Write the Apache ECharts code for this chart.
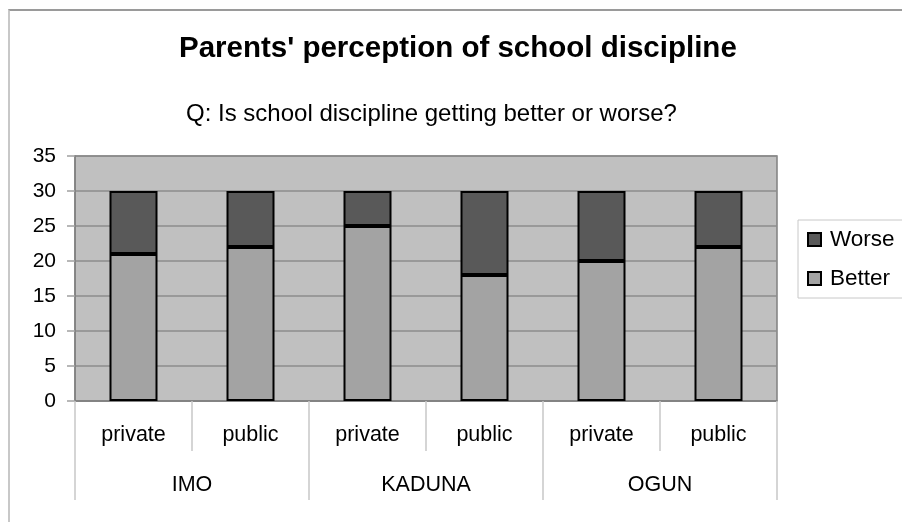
<!DOCTYPE html>
<html>
<head>
<meta charset="utf-8">
<script src="https://cdn.jsdelivr.net/npm/echarts@6/dist/echarts.min.js"></script>
<style>
  html, body { margin: 0; padding: 0; background: #ffffff; }
  #frame {
    position: absolute; left: 8px; top: 9px; width: 894px; height: 513px;
    border-top: 2px solid #9a9a9a; border-left: 2px solid #c8c8c8;
    box-sizing: border-box;
  }
  #chart { position: absolute; left: 0; top: 0; width: 902px; height: 522px; }
</style>
</head>
<body>
<div id="frame"></div>
<div id="chart"></div>
<script>
// School type within each state, and the states they belong to
const schoolTypes = ['private', 'public', 'private', 'public', 'private', 'public'];
const states = ['IMO', 'KADUNA', 'OGUN'];

// Number of parents answering each way
const betterCounts = [21, 22, 25, 18, 20, 22];
const worseCounts = [9, 8, 5, 12, 10, 8];

// Value axis
const yMin = 0;
const yMax = 35;
const yStep = 5;

const font = '"Liberation Sans", Arial, sans-serif';

const chart = echarts.init(document.getElementById('chart'), null, { renderer: 'canvas' });

chart.setOption({
  animation: false,
  textStyle: { fontFamily: font, color: '#000' },
  title: [
    {
      text: "Parents' perception of school discipline",
      left: 174,
      top: 29,
      textStyle: { fontFamily: font, fontSize: 29.5, fontWeight: 'bold', color: '#000' }
    },
    {
      text: 'Q: Is school discipline getting better or worse?',
      left: 181,
      top: 97,
      textStyle: { fontFamily: font, fontSize: 24, fontWeight: 'normal', color: '#000' }
    }
  ],
  legend: {
    orient: 'vertical',
    left: 798,
    top: 220,
    data: ['Worse', 'Better'],
    icon: 'rect',
    itemWidth: 13,
    itemHeight: 13,
    itemGap: 16,
    padding: [8, 40, 8, 9],
    borderColor: '#c8c8c8',
    borderWidth: 1,
    textStyle: { fontFamily: font, fontSize: 22.5, color: '#000', padding: [0, 0, 0, 4] }
  },
  grid: {
    left: 75,
    right: 125,
    top: 156,
    bottom: 121,
    show: true,
    backgroundColor: '#c0c0c0',
    borderColor: '#808080',
    borderWidth: 1.5,
    containLabel: false
  },
  xAxis: [
    {
      type: 'category',
      data: schoolTypes,
      position: 'bottom',
      axisLine: { show: true, lineStyle: { color: '#808080', width: 1.5 } },
      axisTick: { show: true, interval: 0, length: 50, lineStyle: { color: '#c8c8c8', width: 1.5 } },
      axisLabel: { interval: 0, margin: 23, fontSize: 21.5, color: '#000', fontFamily: font },
      splitLine: { show: false }
    },
    {
      type: 'category',
      data: states,
      position: 'bottom',
      offset: 50,
      axisLine: { show: false },
      axisTick: { show: true, interval: 0, length: 49, lineStyle: { color: '#c8c8c8', width: 1.5 } },
      axisLabel: { interval: 0, margin: 23, fontSize: 21.5, color: '#000', fontFamily: font },
      splitLine: { show: false }
    }
  ],
  yAxis: {
    type: 'value',
    min: yMin,
    max: yMax,
    interval: yStep,
    axisLine: { show: true, lineStyle: { color: '#808080', width: 1.5 } },
    axisTick: { show: true, length: 8, lineStyle: { color: '#a0a0a0', width: 1.5 } },
    axisLabel: { margin: 19, fontSize: 21, color: '#000', fontFamily: font },
    splitLine: { show: true, lineStyle: { color: '#8c8c8c', width: 1.5 } }
  },
  series: [
    {
      name: 'Better',
      type: 'bar',
      stack: 'answers',
      xAxisIndex: 0,
      barWidth: 48,
      data: betterCounts,
      itemStyle: { color: '#a3a3a3', borderColor: '#000', borderWidth: 2 }
    },
    {
      name: 'Worse',
      type: 'bar',
      stack: 'answers',
      xAxisIndex: 0,
      barWidth: 48,
      data: worseCounts,
      itemStyle: { color: '#595959', borderColor: '#000', borderWidth: 2 }
    }
  ]
});
</script>
</body>
</html>
